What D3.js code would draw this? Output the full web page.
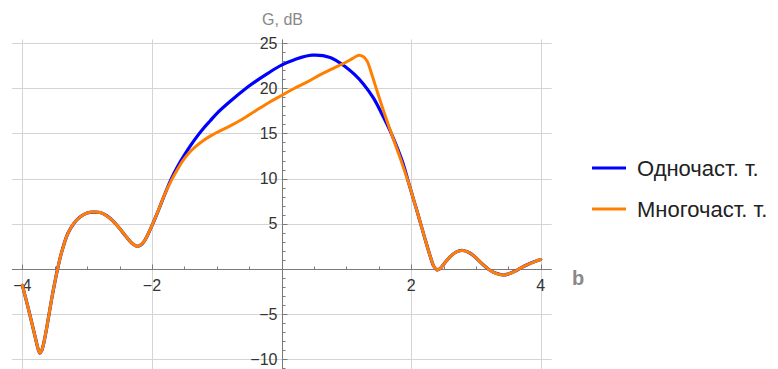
<!DOCTYPE html>
<html>
<head>
<meta charset="utf-8">
<script src="https://cdn.jsdelivr.net/npm/d3@7"></script>
<style>
  body { margin: 0; background: #fff; }
  svg { display: block; font-family: "Liberation Sans", Arial, sans-serif; }
</style>
</head>
<body>
<svg id="chart" width="778" height="369"></svg>
<script>
// curve points [b, G]
const sharedLeft = [
  [-4.0, -1.8], [-3.9, -4.6], [-3.8, -7.6], [-3.75, -9.0], [-3.73, -9.3], [-3.7, -9.0],
  [-3.65, -7.5], [-3.6, -5.5], [-3.55, -3.4], [-3.5, -1.5], [-3.45, 0.2], [-3.4, 1.7],
  [-3.3, 3.9], [-3.2, 5.1], [-3.1, 5.8], [-3.0, 6.2], [-2.9, 6.3], [-2.8, 6.25],
  [-2.7, 5.9], [-2.6, 5.3], [-2.5, 4.5], [-2.4, 3.6], [-2.3, 2.8], [-2.22, 2.5],
  [-2.15, 2.8], [-2.1, 3.3], [-2.0, 4.8], [-1.9, 6.5], [-1.8, 8.3]
];
const singleMid = [
  [-1.7, 10.0], [-1.6, 11.4], [-1.5, 12.6], [-1.4, 13.7], [-1.3, 14.7], [-1.2, 15.6],
  [-1.1, 16.4], [-1.0, 17.2], [-0.8, 18.5], [-0.6, 19.7], [-0.4, 20.75], [-0.2, 21.7],
  [0, 22.55], [0.2, 23.15], [0.47, 23.65], [0.75, 23.4], [1.0, 22.3], [1.13, 21.5],
  [1.26, 20.5], [1.42, 18.9], [1.57, 16.85], [1.7, 14.9], [1.86, 12.0], [1.98, 9.1]
];
const multiMid = [
  [-1.7, 9.8], [-1.6, 11.1], [-1.5, 12.2], [-1.4, 13.05], [-1.3, 13.7], [-1.2, 14.25],
  [-1.1, 14.7], [-1.0, 15.1], [-0.8, 15.8], [-0.6, 16.6], [-0.4, 17.5], [-0.2, 18.4],
  [0, 19.2], [0.2, 20.0], [0.4, 20.7], [0.6, 21.5], [0.8, 22.2], [1.0, 22.9],
  [1.1, 23.3], [1.19, 23.65], [1.26, 23.5], [1.32, 23.0], [1.39, 21.6], [1.47, 19.8],
  [1.57, 17.6], [1.7, 14.9], [1.83, 12.3], [1.98, 9.1]
];
const sharedRight = [
  [2.05, 7.4], [2.1, 6.2], [2.2, 3.7], [2.3, 1.3], [2.35, 0.3], [2.4, -0.1], [2.45, 0.05],
  [2.5, 0.5], [2.6, 1.35], [2.7, 1.9], [2.8, 2.05], [2.9, 1.8], [3.0, 1.25], [3.1, 0.55],
  [3.2, -0.05], [3.3, -0.45], [3.42, -0.66], [3.5, -0.55], [3.6, -0.25], [3.7, 0.15],
  [3.8, 0.5], [3.9, 0.8], [4.0, 1.05]
];

const seriesNames = ["Одночаст. т.", "Многочаст. т."];
const seriesColors = ["#0000ff", "#ff8000"];
const xMajor = [-4, -2, 2, 4];
const yMajor = [-10, -5, 5, 10, 15, 20, 25];

const series = [
  sharedLeft.concat(singleMid, sharedRight),
  sharedLeft.concat(multiMid, sharedRight)
];

const svg = d3.select("#chart");

const x = d3.scaleLinear().domain([-4.16, 4.17]).range([12, 551.7]);
const y = d3.scaleLinear().domain([-11.06, 25.4]).range([369, 39.4]);

// grid
const grid = svg.append("g").attr("stroke", "#d4d4d4").attr("stroke-width", 1);
grid.selectAll(".gx").data(xMajor).join("line")
  .attr("x1", d => Math.round(x(d)) + 0.5).attr("x2", d => Math.round(x(d)) + 0.5)
  .attr("y1", y.range()[1]).attr("y2", y.range()[0]);
grid.selectAll(".gy").data(yMajor).join("line")
  .attr("x1", x.range()[0]).attr("x2", x.range()[1])
  .attr("y1", d => Math.round(y(d)) + 0.5).attr("y2", d => Math.round(y(d)) + 0.5);

// axes
const x0 = Math.round(x(0)) + 0.5, y0 = Math.round(y(0)) + 0.5;
const axisColor = "#7a7a7a";
const axes = svg.append("g").attr("stroke", axisColor).attr("stroke-width", 1);
axes.append("line").attr("x1", x.range()[0]).attr("x2", x.range()[1]).attr("y1", y0).attr("y2", y0);
axes.append("line").attr("x1", x0).attr("x2", x0).attr("y1", y.range()[1]).attr("y2", y.range()[0]);

const xMinor = d3.range(-4, 4.01, 0.5).filter(d => d !== 0);
axes.selectAll(".tx").data(xMinor).join("line")
  .attr("x1", d => Math.round(x(d)) + 0.5).attr("x2", d => Math.round(x(d)) + 0.5)
  .attr("y1", y0).attr("y2", d => y0 - (xMajor.includes(d) ? 5 : 3));

const yMinor = d3.range(-11, 26, 1).filter(d => d !== 0);
axes.selectAll(".ty").data(yMinor).join("line")
  .attr("x1", x0).attr("x2", d => x0 + (d % 5 === 0 ? 5 : 3))
  .attr("y1", d => Math.round(y(d)) + 0.5).attr("y2", d => Math.round(y(d)) + 0.5);

// tick labels
const fmt = d => (d < 0 ? "\u2212" + Math.abs(d) : String(d));
svg.append("g").selectAll("text").data(yMajor).join("text")
  .attr("x", x0 - 5).attr("y", d => y(d)).attr("dy", "0.35em")
  .attr("text-anchor", "end").attr("font-size", 16).attr("fill", "#333")
  .text(fmt);
svg.append("g").selectAll("text").data(xMajor).join("text")
  .attr("x", d => x(d)).attr("y", y0 + 21)
  .attr("text-anchor", "middle").attr("font-size", 16).attr("fill", "#333")
  .text(fmt);

// axis labels
svg.append("text").attr("x", x0).attr("y", 25).attr("text-anchor", "middle")
  .attr("font-size", 16).attr("fill", "#888").text("G, dB");
svg.append("text").attr("x", 572).attr("y", 285)
  .attr("font-size", 20).attr("font-weight", "bold").attr("fill", "#8a8a8a").text("b");

// curves
const line = d3.line().x(d => x(d[0])).y(d => y(d[1])).curve(d3.curveCatmullRom.alpha(0.5));
svg.append("g").selectAll("path").data(series).join("path")
  .attr("d", line)
  .attr("fill", "none")
  .attr("stroke", (d, i) => seriesColors[i])
  .attr("stroke-width", (d, i) => i === 0 ? 3.2 : 3)
  .attr("stroke-linejoin", "round")
  .attr("stroke-linecap", "round");

// legend
const legend = svg.append("g").selectAll("g").data(seriesNames).join("g")
  .attr("transform", (d, i) => `translate(592, ${168 + i * 41})`);
legend.append("line").attr("x1", 0).attr("x2", 34)
  .attr("stroke", (d, i) => seriesColors[i]).attr("stroke-width", 3);
legend.append("text").attr("x", 45).attr("y", 7.5)
  .attr("font-size", 22).attr("fill", "#222").text(d => d);
</script>
</body>
</html>
